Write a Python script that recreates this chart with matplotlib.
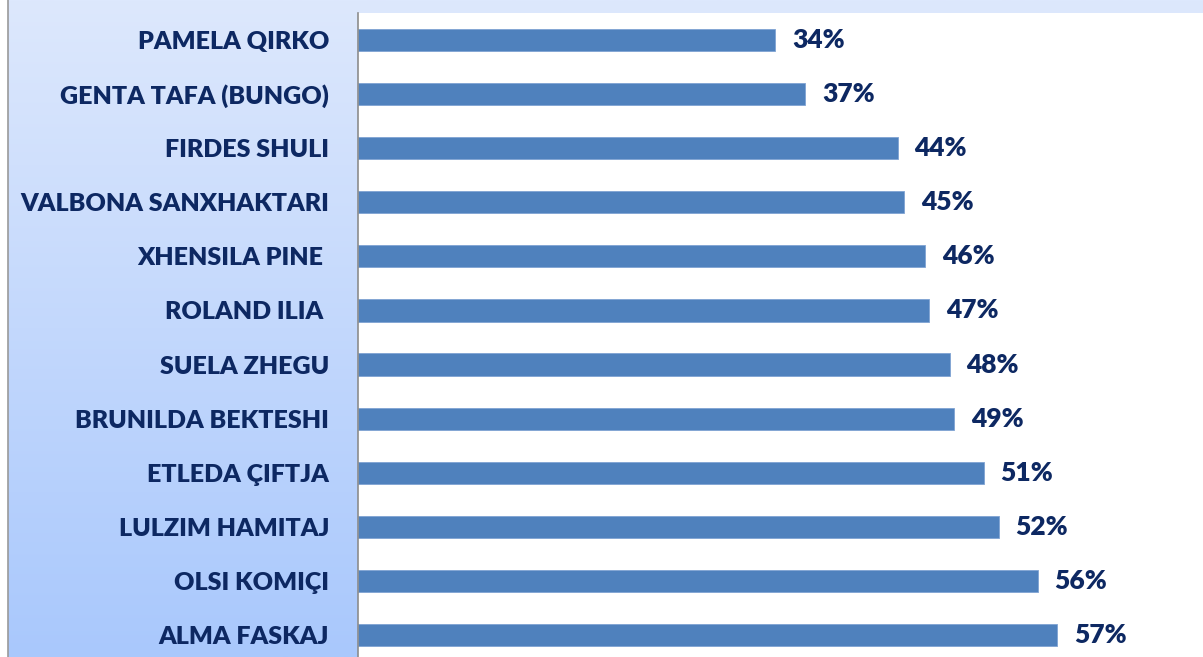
import matplotlib
matplotlib.use("Agg")
import matplotlib.pyplot as plt
import numpy as np
from matplotlib.colors import LinearSegmentedColormap

names = ["PAMELA QIRKO", "GENTA TAFA (BUNGO)", "FIRDES SHULI", "VALBONA SANXHAKTARI",
         "XHENSILA PINE ", "ROLAND ILIA ", "SUELA ZHEGU", "BRUNILDA BEKTESHI",
         "ETLEDA ÇIFTJA", "LULZIM HAMITAJ", "OLSI KOMIÇI", "ALMA FASKAJ"]
# bar lengths (labels are rounded)
values = [34.15, 36.6, 44.15, 44.7, 46.4, 46.75, 48.4, 48.75, 51.2, 52.4, 55.6, 57.2]
labels = ["34%", "37%", "44%", "45%", "46%", "47%", "48%", "49%", "51%", "52%", "56%", "57%"]

W, H = 1203, 657
fig = plt.figure(figsize=(W/100, H/100), dpi=100)
fig.patch.set_facecolor("white")

# background gradient panel
bg = fig.add_axes([8/W, 0, (W-8)/W, 1])
bg.set_axis_off()
cmap = LinearSegmentedColormap.from_list("g", ["#dde8fd", "#a9c8fc"])
grad = np.linspace(0, 1, 256).reshape(-1, 1)
bg.imshow(grad, aspect="auto", cmap=cmap, extent=[0, 1, 0, 1], origin="upper")
bg.set_xlim(0, 1); bg.set_ylim(0, 1)
fig.add_artist(plt.Line2D([7.5/W, 7.5/W], [0, 1], color="#9a9a9a", lw=1.2))

navy = "#0d2862"
x0 = 357.5
ax = fig.add_axes([x0/W, -5/H, (W-x0)/W, (662-13)/H])
ax.set_facecolor("white")
y = np.arange(len(names))
ax.barh(y, values, height=0.41, color="#4f81bd", edgecolor="#7fa3d3", linewidth=0.6)
ax.set_xlim(0, (W-x0)/12.235)
ax.set_ylim(len(names)-0.5, -0.5)
ax.set_yticks(y)
ax.set_yticklabels(names, fontfamily="Lato", fontweight="heavy", fontsize=18, color=navy)
ax.tick_params(axis="y", length=0, pad=20.5)
ax.set_xticks([])
for s in ["top", "right", "bottom"]:
    ax.spines[s].set_visible(False)
ax.spines["left"].set_color("#8c8c8c")
ax.spines["left"].set_linewidth(1.2)

for i, (v, t) in enumerate(zip(values, labels)):
    ax.annotate(t, xy=(v, i), xytext=(12, 0), textcoords="offset points",
                va="center", ha="left", fontfamily="Lato", fontweight="heavy",
                fontsize=19, color=navy)

fig.savefig("out.png", dpi=100)
